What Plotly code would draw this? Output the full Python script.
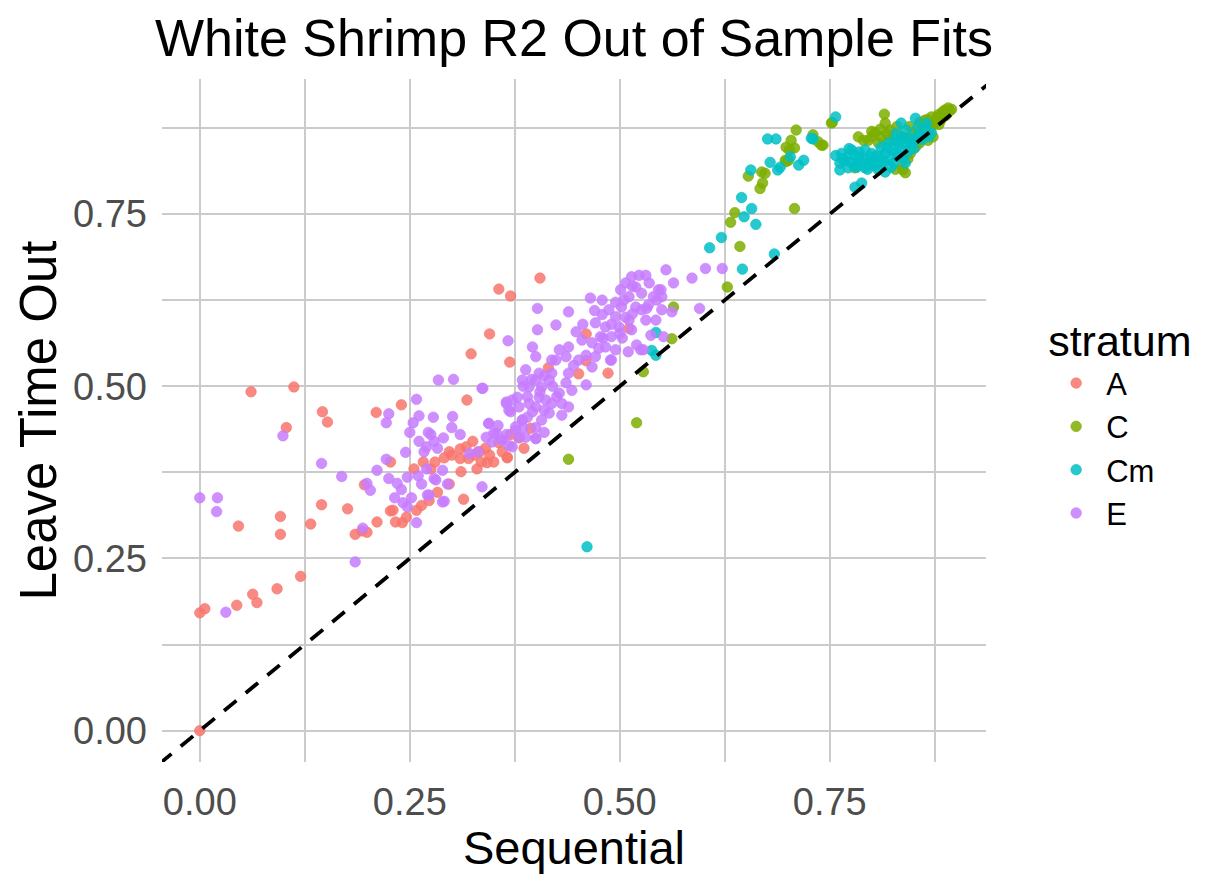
import plotly.graph_objects as go

# ---------------- data ----------------
categories = ["A", "C", "Cm", "E"]
colors = {"A": "248,118,109", "C": "124,174,0", "Cm": "0,191,196", "E": "199,124,255"}

A_x = [0.0, 0.0, 0.006, 0.044, 0.063, 0.068, 0.092, 0.12, 0.046, 0.096, 0.096, 0.132, 0.145, 0.176,
       0.227, 0.185, 0.193, 0.199, 0.211, 0.233, 0.241, 0.061, 0.112, 0.146, 0.152, 0.103, 0.21, 0.24,
       0.318, 0.227, 0.255, 0.266, 0.196, 0.314, 0.356, 0.37, 0.405, 0.345, 0.323, 0.369, 0.46, 0.451,
       0.46, 0.415, 0.291, 0.297, 0.31, 0.317, 0.327, 0.333, 0.342, 0.35, 0.366, 0.386, 0.356, 0.311,
       0.33, 0.297, 0.283, 0.273, 0.264, 0.258, 0.23, 0.246, 0.394, 0.511, 0.38, 0.37, 0.486, 0.366,
       0.34, 0.325, 0.3, 0.32, 0.335, 0.345, 0.36, 0.28, 0.275, 0.31]
A_y = [0.0, 0.171, 0.177, 0.182, 0.198, 0.186, 0.206, 0.224, 0.297, 0.311, 0.285, 0.3, 0.328, 0.322,
       0.319, 0.285, 0.29, 0.288, 0.303, 0.303, 0.302, 0.492, 0.499, 0.463, 0.448, 0.44, 0.462, 0.473,
       0.48, 0.39, 0.38, 0.39, 0.357, 0.336, 0.641, 0.631, 0.657, 0.576, 0.547, 0.535, 0.576, 0.518,
       0.537, 0.527, 0.396, 0.405, 0.409, 0.412, 0.4, 0.405, 0.389, 0.39, 0.396, 0.41, 0.418, 0.376,
       0.38, 0.358, 0.346, 0.334, 0.327, 0.32, 0.32, 0.31, 0.439, 0.584, 0.425, 0.43, 0.519, 0.397,
       0.41, 0.42, 0.4, 0.395, 0.39, 0.4, 0.405, 0.39, 0.38, 0.395]

C_x = [0.528, 0.562, 0.564, 0.52, 0.439, 0.628, 0.643, 0.632, 0.637, 0.708, 0.653, 0.667, 0.669, 0.673,
       0.67, 0.698, 0.702, 0.708, 0.704, 0.71, 0.73, 0.736, 0.742, 0.753, 0.697, 0.74, 0.752, 0.815,
       0.816, 0.804, 0.811, 0.796, 0.79, 0.808, 0.82, 0.849, 0.855, 0.852, 0.863, 0.871, 0.879, 0.887,
       0.891, 0.882, 0.875, 0.869, 0.863, 0.855, 0.78, 0.836, 0.837, 0.846, 0.857, 0.867, 0.873, 0.784,
       0.698, 0.701, 0.885, 0.878, 0.868, 0.86, 0.84, 0.826, 0.8, 0.893, 0.884, 0.878,
       0.81, 0.822, 0.83, 0.845, 0.857, 0.866, 0.872, 0.88, 0.888, 0.895, 0.8, 0.818, 0.835, 0.828,
       0.843, 0.84]
C_y = [0.521, 0.569, 0.615, 0.447, 0.394, 0.644, 0.703, 0.738, 0.752, 0.758, 0.805, 0.787, 0.811, 0.809,
       0.795, 0.826, 0.843, 0.846, 0.857, 0.872, 0.865, 0.855, 0.85, 0.883, 0.828, 0.85, 0.882, 0.895,
       0.882, 0.868, 0.862, 0.857, 0.857, 0.853, 0.857, 0.868, 0.857, 0.847, 0.886, 0.891, 0.894, 0.901,
       0.904, 0.886, 0.882, 0.876, 0.869, 0.868, 0.817, 0.818, 0.814, 0.838, 0.853, 0.857, 0.862, 0.862,
       0.847, 0.828, 0.895, 0.887, 0.88, 0.874, 0.86, 0.864, 0.862, 0.9, 0.898, 0.89,
       0.873, 0.872, 0.877, 0.877, 0.883, 0.887, 0.878, 0.88, 0.893, 0.902, 0.87, 0.866, 0.862, 0.815,
       0.83, 0.81]

Cm_x = [0.461, 0.543, 0.543, 0.538, 0.646, 0.684, 0.607, 0.621, 0.648, 0.657, 0.662, 0.645, 0.679, 0.656,
        0.676, 0.686, 0.688, 0.691, 0.713, 0.719, 0.73, 0.757, 0.703, 0.728, 0.764, 0.762, 0.768, 0.776,
        0.784, 0.78, 0.792, 0.798, 0.792, 0.805, 0.808, 0.816, 0.823, 0.816, 0.825, 0.831, 0.828, 0.837,
        0.835, 0.852, 0.846, 0.84, 0.871, 0.78, 0.788, 0.8, 0.811, 0.82, 0.829, 0.841, 0.855, 0.865,
        0.762, 0.772, 0.77, 0.79, 0.8, 0.81, 0.822, 0.834, 0.845, 0.858, 0.85, 0.812, 0.796, 0.785,
        0.775, 0.782, 0.787, 0.795, 0.803, 0.806, 0.814, 0.818, 0.826, 0.829, 0.836, 0.838, 0.843, 0.848,
        0.853, 0.86, 0.864, 0.868, 0.832, 0.757, 0.765, 0.773, 0.78]
Cm_y = [0.267, 0.578, 0.545, 0.552, 0.67, 0.692, 0.701, 0.716, 0.746, 0.758, 0.735, 0.774, 0.825, 0.814,
        0.859, 0.859, 0.814, 0.818, 0.821, 0.828, 0.859, 0.891, 0.833, 0.86, 0.838, 0.824, 0.828, 0.843,
        0.833, 0.821, 0.843, 0.833, 0.817, 0.828, 0.814, 0.811, 0.818, 0.838, 0.843, 0.833, 0.857, 0.862,
        0.882, 0.889, 0.85, 0.824, 0.868, 0.789, 0.795, 0.824, 0.847, 0.853, 0.867, 0.872, 0.876, 0.882,
        0.814, 0.817, 0.832, 0.83, 0.838, 0.832, 0.83, 0.845, 0.86, 0.865, 0.845, 0.822, 0.822, 0.84,
        0.825, 0.818, 0.826, 0.815, 0.82, 0.835, 0.826, 0.845, 0.824, 0.84, 0.832, 0.852, 0.84, 0.853,
        0.862, 0.858, 0.872, 0.862, 0.855, 0.835, 0.83, 0.845, 0.836]

E_x = [0.0, 0.021, 0.02, 0.031, 0.099, 0.145, 0.169, 0.185, 0.194, 0.284, 0.302, 0.337, 0.225, 0.222,
       0.258, 0.261, 0.254, 0.278, 0.301, 0.25, 0.272, 0.222, 0.211, 0.245, 0.261, 0.27, 0.279, 0.267,
       0.275, 0.283, 0.225, 0.199, 0.203, 0.235, 0.232, 0.247, 0.242, 0.252, 0.264, 0.273, 0.279, 0.289,
       0.291, 0.295, 0.247, 0.258, 0.321, 0.331,
       0.365, 0.378, 0.37, 0.384, 0.344, 0.35, 0.36, 0.368, 0.376, 0.388, 0.4, 0.336, 0.289, 0.281, 0.271,
       0.514, 0.523, 0.531, 0.507, 0.501, 0.519, 0.526, 0.511, 0.495, 0.479, 0.487, 0.502, 0.519, 0.534,
       0.555, 0.564, 0.549, 0.55, 0.55, 0.562, 0.465, 0.439, 0.402, 0.424, 0.402, 0.367, 0.336,
       0.479, 0.495, 0.511, 0.471, 0.483, 0.499, 0.514, 0.526, 0.477, 0.49, 0.503, 0.467, 0.483, 0.495,
       0.471, 0.49, 0.448, 0.455, 0.439, 0.451, 0.467, 0.531, 0.543, 0.528, 0.552, 0.537, 0.428, 0.436,
       0.424,
       0.396, 0.4, 0.419, 0.388, 0.404, 0.419, 0.384, 0.4, 0.416, 0.392, 0.407, 0.439, 0.436, 0.443, 0.46,
       0.428, 0.404, 0.412, 0.419, 0.431, 0.439, 0.4, 0.372, 0.365, 0.368, 0.396, 0.416, 0.431, 0.407,
       0.384, 0.376, 0.344, 0.353, 0.36, 0.372, 0.38, 0.4, 0.341, 0.348,
       0.586, 0.602, 0.622, 0.595, 0.546, 0.532, 0.525, 0.489, 0.544,
       0.385, 0.395, 0.41, 0.42, 0.39, 0.405, 0.38, 0.392, 0.41, 0.425, 0.445, 0.46, 0.475, 0.48, 0.5,
       0.507, 0.515, 0.49, 0.505, 0.515, 0.535, 0.54, 0.456, 0.47, 0.385, 0.365, 0.355, 0.39, 0.4, 0.41,
       0.52, 0.51, 0.3, 0.31, 0.29, 0.24, 0.26, 0.27]
E_y = [0.338, 0.338, 0.318, 0.172, 0.428, 0.388, 0.369, 0.245, 0.294, 0.509, 0.51, 0.497, 0.46, 0.447,
       0.481, 0.457, 0.447, 0.455, 0.456, 0.433, 0.433, 0.394, 0.378, 0.404, 0.42, 0.412, 0.42, 0.405,
       0.43, 0.41, 0.366, 0.359, 0.349, 0.359, 0.338, 0.368, 0.331, 0.338, 0.358, 0.342, 0.366, 0.378,
       0.333, 0.358, 0.325, 0.302, 0.402, 0.405,
       0.477, 0.484, 0.463, 0.451, 0.446, 0.432, 0.422, 0.414, 0.436, 0.426, 0.424, 0.354, 0.332, 0.364,
       0.342,
       0.659, 0.661, 0.661, 0.65, 0.64, 0.644, 0.635, 0.63, 0.622, 0.625, 0.611, 0.615, 0.615, 0.618,
       0.669, 0.65, 0.64, 0.63, 0.611, 0.608, 0.628, 0.608, 0.613, 0.589, 0.582, 0.566, 0.497,
       0.604, 0.601, 0.596, 0.592, 0.586, 0.586, 0.582, 0.611, 0.572, 0.572, 0.57, 0.563, 0.557, 0.553,
       0.543, 0.538, 0.579, 0.567, 0.557, 0.538, 0.528, 0.596, 0.596, 0.553, 0.572, 0.574, 0.553, 0.543,
       0.538,
       0.557, 0.543, 0.538, 0.524, 0.519, 0.519, 0.509, 0.509, 0.509, 0.499, 0.499, 0.519, 0.505, 0.494,
       0.502, 0.49, 0.484, 0.48, 0.475, 0.475, 0.47, 0.47, 0.48, 0.475, 0.465, 0.463, 0.461, 0.458, 0.451,
       0.451, 0.441, 0.446, 0.432, 0.422, 0.412, 0.426, 0.424, 0.426, 0.419,
       0.657, 0.671, 0.671, 0.613, 0.64, 0.613, 0.553, 0.538, 0.625,
       0.5, 0.51, 0.515, 0.5, 0.485, 0.492, 0.47, 0.475, 0.465, 0.485, 0.53, 0.545, 0.555, 0.57, 0.577,
       0.6, 0.605, 0.59, 0.625, 0.645, 0.65, 0.63, 0.59, 0.61, 0.44, 0.43, 0.443, 0.455, 0.44, 0.433,
       0.56, 0.55, 0.44, 0.43, 0.425, 0.35, 0.37, 0.38]

diag = [-0.1, 1.0]

x_ticks = [0.0, 0.25, 0.5, 0.75]
x_ticktext = ["0.00", "0.25", "0.50", "0.75"]
y_ticks = [0.0, 0.25, 0.5, 0.75]
y_ticktext = ["0.00", "0.25", "0.50", "0.75"]

series = {"A": (A_x, A_y), "C": (C_x, C_y), "Cm": (Cm_x, Cm_y), "E": (E_x, E_y)}

FONT = "Liberation Sans, Arial, sans-serif"
GRID = "#cbcbcb"

fig = go.Figure()
for i, cat in enumerate(categories):
    xs, ys = series[cat]
    rgb = colors[cat]
    fig.add_trace(go.Scatter(
        x=xs, y=ys, mode="markers", name=cat, legendrank=i + 1,
        marker=dict(size=10.5, color=f"rgba({rgb},0.85)",
                    line=dict(width=0.7, color=f"rgba({rgb},0.95)")),
    ))

fig.add_trace(go.Scatter(
    x=diag, y=diag, mode="lines", showlegend=False, hoverinfo="skip",
    line=dict(color="black", width=3.8, dash="16px,12px"),
))

axis_common = dict(
    showgrid=True, gridcolor=GRID, gridwidth=1.5,
    zeroline=False, showline=False, ticks="", automargin=False,
    tickfont=dict(size=38, color="#4d4d4d", family=FONT),
    minor=dict(tick0=0, dtick=0.125, showgrid=True, gridcolor=GRID, gridwidth=1.5),
)

# the page body adds an 8px offset, so the figure is 8px smaller than the window
fig.update_layout(
    width=1198, height=866,
    margin=dict(l=154, r=218, t=71, b=112),
    paper_bgcolor="white", plot_bgcolor="white",
    font=dict(family=FONT, color="black"),
    title=dict(text="White Shrimp R2 Out of Sample Fits", x=0.5, xref="paper", xanchor="center",
               y=0.966, yref="container", yanchor="middle",
               font=dict(size=52, color="black", family=FONT)),
    xaxis=dict(range=[-0.045, 0.936], tickvals=x_ticks, ticktext=x_ticktext,
               title=dict(text="Sequential", font=dict(size=47, color="black"), standoff=5),
               ticklabelstandoff=14, **axis_common),
    yaxis=dict(range=[-0.0455, 0.946], tickvals=y_ticks, ticktext=y_ticktext,
               title=dict(text="Leave Time Out", font=dict(size=51, color="black"), standoff=0),
               ticklabelstandoff=14, **axis_common),
    legend=dict(title=dict(text="stratum", font=dict(size=43, color="black")),
                font=dict(size=31, color="black"),
                x=1.073, xanchor="left", y=0.5, yanchor="middle",
                itemwidth=50, bgcolor="rgba(0,0,0,0)"),
    showlegend=True,
)

fig.write_html("out.html")
